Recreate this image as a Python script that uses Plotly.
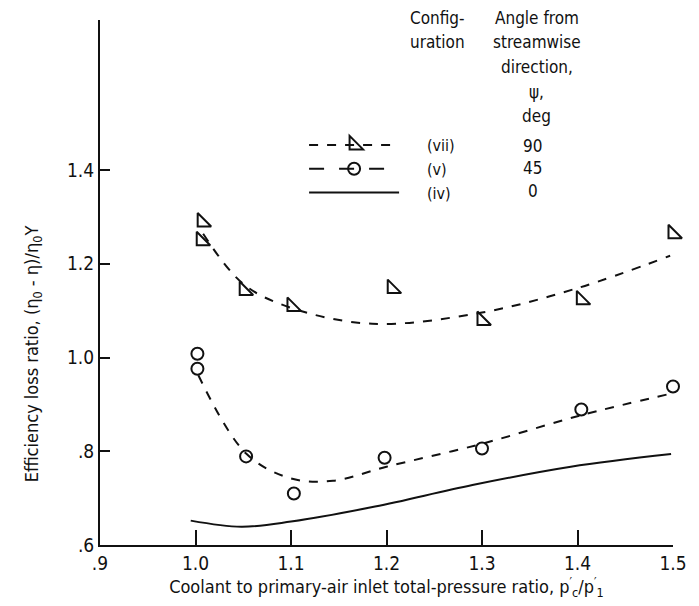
import plotly.graph_objects as go

# Data points
x_vii = [1.007, 1.006, 1.051, 1.101, 1.206, 1.300, 1.404, 1.500]
y_vii = [1.289, 1.249, 1.143, 1.109, 1.147, 1.079, 1.123, 1.264]
x_v = [1.002, 1.002, 1.053, 1.103, 1.198, 1.300, 1.404, 1.500]
y_v = [1.008, 0.976, 0.789, 0.710, 0.786, 0.806, 0.889, 0.938]

# Faired curves
cx_vii = [1.008, 1.05, 1.10, 1.185, 1.30, 1.40, 1.497]
cy_vii = [1.264, 1.157, 1.106, 1.072, 1.096, 1.148, 1.217]
cx_v = [1.003, 1.053, 1.10, 1.144, 1.20, 1.30, 1.404, 1.498]
cy_v = [0.962, 0.795, 0.742, 0.737, 0.767, 0.816, 0.877, 0.923]
cx_iv = [0.995, 1.048, 1.10, 1.188, 1.29, 1.393, 1.498]
cy_iv = [0.652, 0.639, 0.650, 0.682, 0.728, 0.767, 0.794]

configs = ["(vii)", "(v)", "(iv)"]
angles = ["90", "45", "0"]

x_ticks = [0.9, 1.0, 1.1, 1.2, 1.3, 1.4, 1.5]
x_ticklabels = [".9", "1.0", "1.1", "1.2", "1.3", "1.4", "1.5"]
y_ticks = [0.6, 0.8, 1.0, 1.2, 1.4]
y_ticklabels = [".6", ".8", "1.0", "1.2", "1.4"]

FONT = "DejaVu Sans Condensed, Liberation Sans Narrow, sans-serif"
BLACK = "#111111"
PAD = "\u00a0" * 5

fig = go.Figure()

# curves
fig.add_trace(go.Scatter(x=cx_vii, y=cy_vii, mode="lines", line=dict(color=BLACK, width=2, dash="dash", shape="spline"), showlegend=False))
fig.add_trace(go.Scatter(x=cx_v, y=cy_v, mode="lines", line=dict(color=BLACK, width=2, dash="dash", shape="spline"), showlegend=False))
fig.add_trace(go.Scatter(x=cx_iv, y=cy_iv, mode="lines", line=dict(color=BLACK, width=2, shape="spline"), showlegend=False))

# data markers
fig.add_trace(go.Scatter(x=x_vii, y=y_vii, mode="markers", cliponaxis=False,
                         marker=dict(symbol="triangle-sw-open", size=15, color=BLACK, line=dict(width=2, color=BLACK)), showlegend=False))
fig.add_trace(go.Scatter(x=x_v, y=y_v, mode="markers", cliponaxis=False,
                         marker=dict(symbol="circle-open", size=12, color=BLACK, line=dict(width=2, color=BLACK)), showlegend=False))

# legend entries
fig.add_trace(go.Scatter(x=[None], y=[None], mode="lines+markers", name=PAD + configs[0],
                         line=dict(color=BLACK, width=2, dash="dash"),
                         marker=dict(symbol="triangle-sw-open", size=15, color=BLACK, line=dict(width=2, color=BLACK))))
fig.add_trace(go.Scatter(x=[None], y=[None], mode="lines+markers", name=PAD + configs[1],
                         line=dict(color=BLACK, width=2, dash="longdash"),
                         marker=dict(symbol="circle-open", size=12, color=BLACK, line=dict(width=2, color=BLACK))))
fig.add_trace(go.Scatter(x=[None], y=[None], mode="lines", name=PAD + configs[2],
                         line=dict(color=BLACK, width=2)))

annotations = []
# column headers
hdr_left = ["Config-", "uration"]
for i, t in enumerate(hdr_left):
    annotations.append(dict(x=414, y=18 + 24 * i, text=t))
hdr_right = ["Angle from", "streamwise", "direction,", "ψ,", "deg"]
for i, t in enumerate(hdr_right):
    annotations.append(dict(x=545, y=18 + 24.5 * i, text=t, center=True))
# angle column
for i, a in enumerate(angles):
    annotations.append(dict(x=541, y=146 + 22.5 * i, text=a, center=True))

ann = []
for a in annotations:
    ann.append(dict(
        xref="paper", yref="paper",
        x=(a["x"] - 100) / 584, y=(545 - a["y"]) / 525,
        text=a["text"], showarrow=False,
        xanchor="center" if a.get("center") else "left", yanchor="middle",
        font=dict(family=FONT, size=17, color=BLACK),
    ))

# y-axis title placed as rotated annotation (centered lower than plot middle, as in reference)
ann.append(dict(
    xref="paper", yref="paper", x=(32 - 100) / 584, y=(545 - 354) / 525,
    text="Efficiency loss ratio, (η<sub>0</sub> - η)/η<sub>0</sub>Y",
    textangle=-90, showarrow=False, xanchor="center", yanchor="middle",
    font=dict(family=FONT, size=18, color=BLACK),
))

fig.update_layout(
    width=699, height=606,
    margin=dict(l=100, r=15, t=20, b=61),
    paper_bgcolor="white", plot_bgcolor="white",
    font=dict(family=FONT, size=17, color=BLACK),
    annotations=ann,
    legend=dict(
        x=(308 - 100) / 584, y=(545 - 128) / 525, xanchor="left", yanchor="top",
        bgcolor="rgba(0,0,0,0)", itemwidth=90, tracegroupgap=0,
        font=dict(family=FONT, size=16, color=BLACK),
    ),
    xaxis=dict(
        range=[0.9, 1.5], tickvals=x_ticks, ticktext=x_ticklabels,
        showline=True, linecolor=BLACK, linewidth=2, mirror=False,
        ticks="inside", ticklen=15, tickwidth=2, tickcolor=BLACK,
        showgrid=False, zeroline=False,
        tickfont=dict(family=FONT, size=19, color=BLACK),
        title=dict(text="Coolant to primary-air inlet total-pressure ratio, p<sup>′</sup><sub>c</sub>/p<sup>′</sup><sub>1</sub>",
                   font=dict(family=FONT, size=18, color=BLACK), standoff=2),
    ),
    yaxis=dict(
        range=[0.6, 1.72], tickvals=y_ticks, ticktext=y_ticklabels,
        showline=True, linecolor=BLACK, linewidth=2, mirror=False,
        ticks="inside", ticklen=10, tickwidth=2, tickcolor=BLACK,
        showgrid=False, zeroline=False,
        tickfont=dict(family=FONT, size=19, color=BLACK),
    ),
)

fig.write_html("out.html")
